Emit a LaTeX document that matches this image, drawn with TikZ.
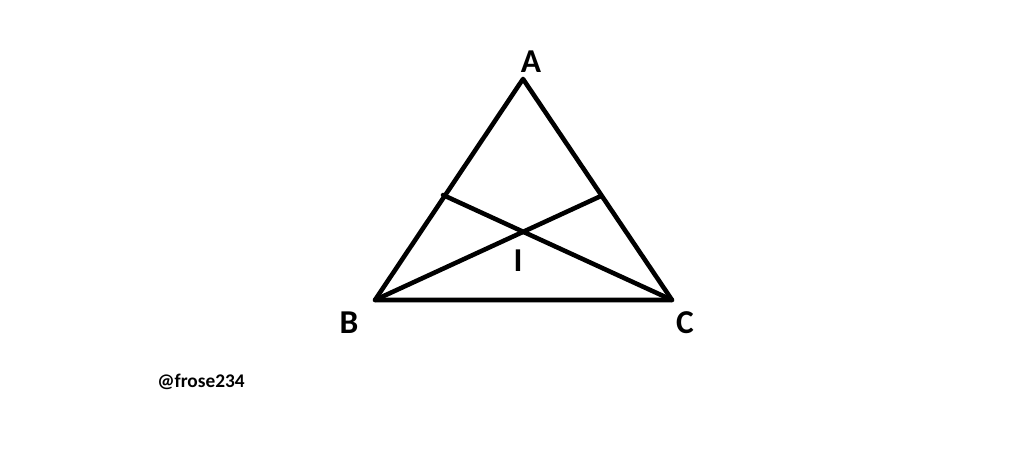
\documentclass[tikz,border=0pt]{standalone}
\usepackage{fontspec}
\setmainfont{Carlito}
\begin{document}
\begin{tikzpicture}[x=0.02cm,y=-0.02cm]
\tikzset{side/.style = {line width=2.6pt,line cap=round,line join=round}}
\tikzset{vlabel/.style = {font=\fontsize{19}{22}\selectfont\bfseries}}
\useasboundingbox (0,0) rectangle (1024,463);
% vertices
\coordinate (a) at (523,79);
\coordinate (b) at (375,300);
\coordinate (c) at (672,300);
\coordinate (d) at (443,195);
\coordinate (e) at (601,196);
\node[vlabel] (la) at (531,62) {A};
\node[vlabel] (lb) at (349,323) {B};
\node[vlabel] (lc) at (685,323) {C};
\node[vlabel] (li) at (518,261) {I};
\node[font=\fontsize{11}{13}\selectfont\bfseries] (tag) at (201,382) {@frose234};

%edges
\draw[side] (a) -- (b) -- (c) -- cycle;
\draw[side] (b) -- (e);
\draw[side] (c) -- (d);

\end{tikzpicture}
\end{document}
